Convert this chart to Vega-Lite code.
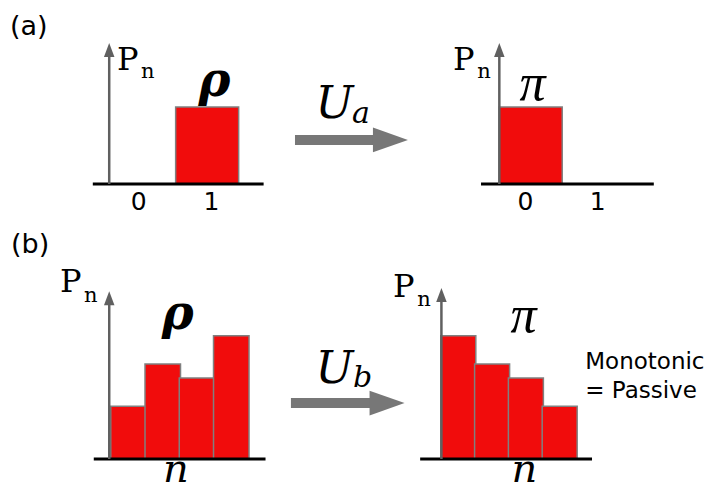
{
"$schema": "https://vega.github.io/schema/vega-lite/v6.json",
"padding": 0,
"background": "white",
"spacing": 0,
"bounds": "flush",
"columns": 3,
"config": {"view": {"stroke": null}},
"concat": [
{"width": 285, "height": 220, "layer": [
 {"data": {"values": [{"n": 0, "P": 0}, {"n": 1, "P": 1}]}, "mark": {"type": "bar", "width": 63, "fill": "#f10c0c", "stroke": "#808080", "strokeWidth": 1.5},
  "encoding": {"x": {"field": "n", "type": "quantitative", "axis": null, "scale": {"domain": [-2.3254, 2.1984], "nice": false, "zero": false}}, "y": {"field": "P", "type": "quantitative", "axis": null, "scale": {"domain": [-0.4675, 2.3896], "nice": false, "zero": false}}, "y2": {"datum": 0}}},
 {"data": {"values": [{}]}, "mark": {"type": "rule", "color": "black", "strokeWidth": 3},
  "encoding": {"x": {"datum": -0.881, "type": "quantitative", "axis": null, "scale": {"domain": [-2.3254, 2.1984], "nice": false, "zero": false}}, "x2": {"datum": 1.929}, "y": {"datum": 0, "type": "quantitative", "axis": null, "scale": {"domain": [-0.4675, 2.3896], "nice": false, "zero": false}}}},
 {"data": {"values": [{}]}, "mark": {"type": "rule", "color": "#606060", "strokeWidth": 2.5},
  "encoding": {"x": {"datum": -0.611, "type": "quantitative", "axis": null, "scale": {"domain": [-2.3254, 2.1984], "nice": false, "zero": false}}, "y": {"datum": 0, "type": "quantitative", "axis": null, "scale": {"domain": [-0.4675, 2.3896], "nice": false, "zero": false}}, "y2": {"datum": 1.74}}},
 {"data": {"values": [{}]}, "mark": {"type": "point", "shape": "M0,-1L0.75,1L-0.75,1Z", "size": 196, "filled": true, "fill": "#606060", "strokeWidth": 0, "opacity": 1},
  "encoding": {"x": {"datum": -0.611, "type": "quantitative", "axis": null, "scale": {"domain": [-2.3254, 2.1984], "nice": false, "zero": false}}, "y": {"datum": 1.74, "type": "quantitative", "axis": null, "scale": {"domain": [-0.4675, 2.3896], "nice": false, "zero": false}}}},
 {"data": {"values": [{}]}, "mark": {"type": "text", "text": "(a)", "font": "DejaVu Sans", "fontSize": 27, "align": "left", "baseline": "alphabetic", "color": "black"},
  "encoding": {"x": {"datum": -2.245, "type": "quantitative", "axis": null, "scale": {"domain": [-2.3254, 2.1984], "nice": false, "zero": false}}, "y": {"datum": 1.935, "type": "quantitative", "axis": null, "scale": {"domain": [-0.4675, 2.3896], "nice": false, "zero": false}}}},
 {"data": {"values": [{}]}, "mark": {"type": "text", "text": "0", "font": "DejaVu Sans", "fontSize": 25, "align": "center", "baseline": "alphabetic", "color": "black"},
  "encoding": {"x": {"datum": -0.127, "type": "quantitative", "axis": null, "scale": {"domain": [-2.3254, 2.1984], "nice": false, "zero": false}}, "y": {"datum": -0.338, "type": "quantitative", "axis": null, "scale": {"domain": [-0.4675, 2.3896], "nice": false, "zero": false}}}},
 {"data": {"values": [{}]}, "mark": {"type": "text", "text": "1", "font": "DejaVu Sans", "fontSize": 25, "align": "center", "baseline": "alphabetic", "color": "black"},
  "encoding": {"x": {"datum": 1.071, "type": "quantitative", "axis": null, "scale": {"domain": [-2.3254, 2.1984], "nice": false, "zero": false}}, "y": {"datum": -0.338, "type": "quantitative", "axis": null, "scale": {"domain": [-0.4675, 2.3896], "nice": false, "zero": false}}}},
 {"data": {"values": [{}]}, "mark": {"type": "text", "text": "P", "font": "DejaVu Serif", "fontSize": 32, "align": "left", "baseline": "alphabetic", "color": "black"},
  "encoding": {"x": {"datum": -0.484, "type": "quantitative", "axis": null, "scale": {"domain": [-2.3254, 2.1984], "nice": false, "zero": false}}, "y": {"datum": 1.481, "type": "quantitative", "axis": null, "scale": {"domain": [-0.4675, 2.3896], "nice": false, "zero": false}}}},
 {"data": {"values": [{}]}, "mark": {"type": "text", "text": "n", "font": "DejaVu Serif", "fontSize": 21, "align": "left", "baseline": "alphabetic", "color": "black"},
  "encoding": {"x": {"datum": -0.087, "type": "quantitative", "axis": null, "scale": {"domain": [-2.3254, 2.1984], "nice": false, "zero": false}}, "y": {"datum": 1.377, "type": "quantitative", "axis": null, "scale": {"domain": [-0.4675, 2.3896], "nice": false, "zero": false}}}},
 {"data": {"values": [{}]}, "mark": {"type": "text", "text": "ρ", "font": "DejaVu Serif", "fontSize": 48, "fontStyle": "italic", "fontWeight": "bold", "align": "center", "baseline": "alphabetic", "color": "black"},
  "encoding": {"x": {"datum": 1.119, "type": "quantitative", "axis": null, "scale": {"domain": [-2.3254, 2.1984], "nice": false, "zero": false}}, "y": {"datum": 1.143, "type": "quantitative", "axis": null, "scale": {"domain": [-0.4675, 2.3896], "nice": false, "zero": false}}}}
]},
{"width": 135, "height": 220, "data": {"values": [{}]}, "layer": [
 {"mark": {"type": "rule", "color": "#777777", "strokeWidth": 10},
  "encoding": {"x": {"datum": 0.074, "type": "quantitative", "axis": null, "scale": {"domain": [0, 1], "nice": false, "zero": false}}, "x2": {"datum": 0.7}, "y": {"datum": 0.364, "type": "quantitative", "axis": null, "scale": {"domain": [0, 1], "nice": false, "zero": false}}}},
 {"mark": {"type": "point", "shape": "M-1,-0.71L1,0L-1,0.71Z", "size": 1225, "filled": true, "fill": "#777777", "strokeWidth": 0, "opacity": 1},
  "encoding": {"x": {"datum": 0.781, "type": "quantitative", "axis": null, "scale": {"domain": [0, 1], "nice": false, "zero": false}}, "y": {"datum": 0.364, "type": "quantitative", "axis": null, "scale": {"domain": [0, 1], "nice": false, "zero": false}}}},
 {"mark": {"type": "text", "text": "U", "font": "DejaVu Serif", "fontSize": 45, "fontStyle": "italic", "align": "left", "baseline": "alphabetic", "color": "black"},
  "encoding": {"x": {"datum": 0.225, "type": "quantitative", "axis": null, "scale": {"domain": [0, 1], "nice": false, "zero": false}}, "y": {"datum": 0.464, "type": "quantitative", "axis": null, "scale": {"domain": [0, 1], "nice": false, "zero": false}}}},
 {"mark": {"type": "text", "text": "a", "font": "DejaVu Serif", "fontSize": 30, "fontStyle": "italic", "align": "left", "baseline": "alphabetic", "color": "black"},
  "encoding": {"x": {"datum": 0.496, "type": "quantitative", "axis": null, "scale": {"domain": [0, 1], "nice": false, "zero": false}}, "y": {"datum": 0.441, "type": "quantitative", "axis": null, "scale": {"domain": [0, 1], "nice": false, "zero": false}}}}
]},
{"width": 289, "height": 220, "layer": [
 {"data": {"values": [{"n": 0, "P": 1}, {"n": 1, "P": 0}]}, "mark": {"type": "bar", "width": 63, "fill": "#f10c0c", "stroke": "#808080", "strokeWidth": 1.5},
  "encoding": {"x": {"field": "n", "type": "quantitative", "axis": null, "scale": {"domain": [-1.7381, 2.8492], "nice": false, "zero": false}}, "y": {"field": "P", "type": "quantitative", "axis": null, "scale": {"domain": [-0.4675, 2.3896], "nice": false, "zero": false}}, "y2": {"datum": 0}}},
 {"data": {"values": [{}]}, "mark": {"type": "rule", "color": "black", "strokeWidth": 3},
  "encoding": {"x": {"datum": -0.817, "type": "quantitative", "axis": null, "scale": {"domain": [-1.7381, 2.8492], "nice": false, "zero": false}}, "x2": {"datum": 2.024}, "y": {"datum": 0, "type": "quantitative", "axis": null, "scale": {"domain": [-0.4675, 2.3896], "nice": false, "zero": false}}}},
 {"data": {"values": [{}]}, "mark": {"type": "rule", "color": "#606060", "strokeWidth": 2.5},
  "encoding": {"x": {"datum": -0.516, "type": "quantitative", "axis": null, "scale": {"domain": [-1.7381, 2.8492], "nice": false, "zero": false}}, "y": {"datum": 0, "type": "quantitative", "axis": null, "scale": {"domain": [-0.4675, 2.3896], "nice": false, "zero": false}}, "y2": {"datum": 1.74}}},
 {"data": {"values": [{}]}, "mark": {"type": "point", "shape": "M0,-1L0.75,1L-0.75,1Z", "size": 196, "filled": true, "fill": "#606060", "strokeWidth": 0, "opacity": 1},
  "encoding": {"x": {"datum": -0.516, "type": "quantitative", "axis": null, "scale": {"domain": [-1.7381, 2.8492], "nice": false, "zero": false}}, "y": {"datum": 1.74, "type": "quantitative", "axis": null, "scale": {"domain": [-0.4675, 2.3896], "nice": false, "zero": false}}}},
 {"data": {"values": [{}]}, "mark": {"type": "text", "text": "0", "font": "DejaVu Sans", "fontSize": 25, "align": "center", "baseline": "alphabetic", "color": "black"},
  "encoding": {"x": {"datum": -0.087, "type": "quantitative", "axis": null, "scale": {"domain": [-1.7381, 2.8492], "nice": false, "zero": false}}, "y": {"datum": -0.338, "type": "quantitative", "axis": null, "scale": {"domain": [-0.4675, 2.3896], "nice": false, "zero": false}}}},
 {"data": {"values": [{}]}, "mark": {"type": "text", "text": "1", "font": "DejaVu Sans", "fontSize": 25, "align": "center", "baseline": "alphabetic", "color": "black"},
  "encoding": {"x": {"datum": 1.103, "type": "quantitative", "axis": null, "scale": {"domain": [-1.7381, 2.8492], "nice": false, "zero": false}}, "y": {"datum": -0.338, "type": "quantitative", "axis": null, "scale": {"domain": [-0.4675, 2.3896], "nice": false, "zero": false}}}},
 {"data": {"values": [{}]}, "mark": {"type": "text", "text": "P", "font": "DejaVu Serif", "fontSize": 32, "align": "left", "baseline": "alphabetic", "color": "black"},
  "encoding": {"x": {"datum": -1.278, "type": "quantitative", "axis": null, "scale": {"domain": [-1.7381, 2.8492], "nice": false, "zero": false}}, "y": {"datum": 1.481, "type": "quantitative", "axis": null, "scale": {"domain": [-0.4675, 2.3896], "nice": false, "zero": false}}}},
 {"data": {"values": [{}]}, "mark": {"type": "text", "text": "n", "font": "DejaVu Serif", "fontSize": 21, "align": "left", "baseline": "alphabetic", "color": "black"},
  "encoding": {"x": {"datum": -0.881, "type": "quantitative", "axis": null, "scale": {"domain": [-1.7381, 2.8492], "nice": false, "zero": false}}, "y": {"datum": 1.377, "type": "quantitative", "axis": null, "scale": {"domain": [-0.4675, 2.3896], "nice": false, "zero": false}}}},
 {"data": {"values": [{}]}, "mark": {"type": "text", "text": "π", "font": "Liberation Serif", "fontSize": 52, "fontStyle": "italic", "align": "center", "baseline": "alphabetic", "color": "black"},
  "encoding": {"x": {"datum": 0.03, "type": "quantitative", "axis": null, "scale": {"domain": [-1.7381, 2.8492], "nice": false, "zero": false}}, "y": {"datum": 1.091, "type": "quantitative", "axis": null, "scale": {"domain": [-0.4675, 2.3896], "nice": false, "zero": false}}}}
]},
{"width": 285, "height": 270, "layer": [
 {"data": {"values": [{"n": 0, "P": 0.15}, {"n": 1, "P": 0.27}, {"n": 2, "P": 0.23}, {"n": 3, "P": 0.35}]}, "mark": {"type": "bar", "width": 35.5, "fill": "#f10c0c", "stroke": "#808080", "strokeWidth": 1.5},
  "encoding": {"x": {"field": "n", "type": "quantitative", "axis": null, "scale": {"domain": [-3.6056, 4.4225], "nice": false, "zero": false}}, "y": {"field": "P", "type": "quantitative", "axis": null, "scale": {"domain": [-0.0881, 0.679], "nice": false, "zero": false}}, "y2": {"datum": 0}}},
 {"data": {"values": [{}]}, "mark": {"type": "rule", "color": "black", "strokeWidth": 3},
  "encoding": {"x": {"datum": -1.014, "type": "quantitative", "axis": null, "scale": {"domain": [-3.6056, 4.4225], "nice": false, "zero": false}}, "x2": {"datum": 4.0}, "y": {"datum": 0, "type": "quantitative", "axis": null, "scale": {"domain": [-0.0881, 0.679], "nice": false, "zero": false}}}},
 {"data": {"values": [{}]}, "mark": {"type": "rule", "color": "#606060", "strokeWidth": 2.5},
  "encoding": {"x": {"datum": -0.563, "type": "quantitative", "axis": null, "scale": {"domain": [-3.6056, 4.4225], "nice": false, "zero": false}}, "y": {"datum": 0, "type": "quantitative", "axis": null, "scale": {"domain": [-0.0881, 0.679], "nice": false, "zero": false}}, "y2": {"datum": 0.457}}},
 {"data": {"values": [{}]}, "mark": {"type": "point", "shape": "M0,-1L0.75,1L-0.75,1Z", "size": 196, "filled": true, "fill": "#606060", "strokeWidth": 0, "opacity": 1},
  "encoding": {"x": {"datum": -0.563, "type": "quantitative", "axis": null, "scale": {"domain": [-3.6056, 4.4225], "nice": false, "zero": false}}, "y": {"datum": 0.457, "type": "quantitative", "axis": null, "scale": {"domain": [-0.0881, 0.679], "nice": false, "zero": false}}}},
 {"data": {"values": [{}]}, "mark": {"type": "text", "text": "(b)", "font": "DejaVu Sans", "fontSize": 27, "align": "left", "baseline": "alphabetic", "color": "black"},
  "encoding": {"x": {"datum": -3.43, "type": "quantitative", "axis": null, "scale": {"domain": [-3.6056, 4.4225], "nice": false, "zero": false}}, "y": {"datum": 0.585, "type": "quantitative", "axis": null, "scale": {"domain": [-0.0881, 0.679], "nice": false, "zero": false}}}},
 {"data": {"values": [{}]}, "mark": {"type": "text", "text": "P", "font": "DejaVu Serif", "fontSize": 32, "align": "left", "baseline": "alphabetic", "color": "black"},
  "encoding": {"x": {"datum": -2.0, "type": "quantitative", "axis": null, "scale": {"domain": [-3.6056, 4.4225], "nice": false, "zero": false}}, "y": {"datum": 0.474, "type": "quantitative", "axis": null, "scale": {"domain": [-0.0881, 0.679], "nice": false, "zero": false}}}},
 {"data": {"values": [{}]}, "mark": {"type": "text", "text": "n", "font": "DejaVu Serif", "fontSize": 21, "align": "left", "baseline": "alphabetic", "color": "black"},
  "encoding": {"x": {"datum": -1.296, "type": "quantitative", "axis": null, "scale": {"domain": [-3.6056, 4.4225], "nice": false, "zero": false}}, "y": {"datum": 0.446, "type": "quantitative", "axis": null, "scale": {"domain": [-0.0881, 0.679], "nice": false, "zero": false}}}},
 {"data": {"values": [{}]}, "mark": {"type": "text", "text": "ρ", "font": "DejaVu Serif", "fontSize": 48, "fontStyle": "italic", "fontWeight": "bold", "align": "center", "baseline": "alphabetic", "color": "black"},
  "encoding": {"x": {"datum": 1.437, "type": "quantitative", "axis": null, "scale": {"domain": [-3.6056, 4.4225], "nice": false, "zero": false}}, "y": {"datum": 0.369, "type": "quantitative", "axis": null, "scale": {"domain": [-0.0881, 0.679], "nice": false, "zero": false}}}},
 {"data": {"values": [{}]}, "mark": {"type": "text", "text": "n", "font": "DejaVu Serif", "fontSize": 40, "fontStyle": "italic", "align": "center", "baseline": "alphabetic", "color": "black"},
  "encoding": {"x": {"datum": 1.38, "type": "quantitative", "axis": null, "scale": {"domain": [-3.6056, 4.4225], "nice": false, "zero": false}}, "y": {"datum": -0.065, "type": "quantitative", "axis": null, "scale": {"domain": [-0.0881, 0.679], "nice": false, "zero": false}}}}
]},
{"width": 135, "height": 270, "data": {"values": [{}]}, "layer": [
 {"mark": {"type": "rule", "color": "#777777", "strokeWidth": 10},
  "encoding": {"x": {"datum": 0.044, "type": "quantitative", "axis": null, "scale": {"domain": [0, 1], "nice": false, "zero": false}}, "x2": {"datum": 0.7}, "y": {"datum": 0.322, "type": "quantitative", "axis": null, "scale": {"domain": [0, 1], "nice": false, "zero": false}}}},
 {"mark": {"type": "point", "shape": "M-1,-0.71L1,0L-1,0.71Z", "size": 1225, "filled": true, "fill": "#777777", "strokeWidth": 0, "opacity": 1},
  "encoding": {"x": {"datum": 0.756, "type": "quantitative", "axis": null, "scale": {"domain": [0, 1], "nice": false, "zero": false}}, "y": {"datum": 0.322, "type": "quantitative", "axis": null, "scale": {"domain": [0, 1], "nice": false, "zero": false}}}},
 {"mark": {"type": "text", "text": "U", "font": "DejaVu Serif", "fontSize": 45, "fontStyle": "italic", "align": "left", "baseline": "alphabetic", "color": "black"},
  "encoding": {"x": {"datum": 0.225, "type": "quantitative", "axis": null, "scale": {"domain": [0, 1], "nice": false, "zero": false}}, "y": {"datum": 0.396, "type": "quantitative", "axis": null, "scale": {"domain": [0, 1], "nice": false, "zero": false}}}},
 {"mark": {"type": "text", "text": "b", "font": "DejaVu Serif", "fontSize": 30, "fontStyle": "italic", "align": "left", "baseline": "alphabetic", "color": "black"},
  "encoding": {"x": {"datum": 0.504, "type": "quantitative", "axis": null, "scale": {"domain": [0, 1], "nice": false, "zero": false}}, "y": {"datum": 0.381, "type": "quantitative", "axis": null, "scale": {"domain": [0, 1], "nice": false, "zero": false}}}}
]},
{"width": 289, "height": 270, "layer": [
 {"data": {"values": [{"n": 0, "P": 0.35}, {"n": 1, "P": 0.27}, {"n": 2, "P": 0.23}, {"n": 3, "P": 0.15}]}, "mark": {"type": "bar", "width": 35, "fill": "#f10c0c", "stroke": "#808080", "strokeWidth": 1.5},
  "encoding": {"x": {"field": "n", "type": "quantitative", "axis": null, "scale": {"domain": [-0.9857, 7.2714], "nice": false, "zero": false}}, "y": {"field": "P", "type": "quantitative", "axis": null, "scale": {"domain": [-0.0881, 0.679], "nice": false, "zero": false}}, "y2": {"datum": 0}}},
 {"data": {"values": [{}]}, "mark": {"type": "rule", "color": "black", "strokeWidth": 3},
  "encoding": {"x": {"datum": -1.129, "type": "quantitative", "axis": null, "scale": {"domain": [-0.9857, 7.2714], "nice": false, "zero": false}}, "x2": {"datum": 3.957}, "y": {"datum": 0, "type": "quantitative", "axis": null, "scale": {"domain": [-0.0881, 0.679], "nice": false, "zero": false}}}},
 {"data": {"values": [{}]}, "mark": {"type": "rule", "color": "#606060", "strokeWidth": 2.5},
  "encoding": {"x": {"datum": -0.5, "type": "quantitative", "axis": null, "scale": {"domain": [-0.9857, 7.2714], "nice": false, "zero": false}}, "y": {"datum": 0, "type": "quantitative", "axis": null, "scale": {"domain": [-0.0881, 0.679], "nice": false, "zero": false}}, "y2": {"datum": 0.466}}},
 {"data": {"values": [{}]}, "mark": {"type": "point", "shape": "M0,-1L0.75,1L-0.75,1Z", "size": 196, "filled": true, "fill": "#606060", "strokeWidth": 0, "opacity": 1},
  "encoding": {"x": {"datum": -0.5, "type": "quantitative", "axis": null, "scale": {"domain": [-0.9857, 7.2714], "nice": false, "zero": false}}, "y": {"datum": 0.466, "type": "quantitative", "axis": null, "scale": {"domain": [-0.0881, 0.679], "nice": false, "zero": false}}}},
 {"data": {"values": [{}]}, "mark": {"type": "text", "text": "P", "font": "DejaVu Serif", "fontSize": 32, "align": "left", "baseline": "alphabetic", "color": "black"},
  "encoding": {"x": {"datum": -1.93, "type": "quantitative", "axis": null, "scale": {"domain": [-0.9857, 7.2714], "nice": false, "zero": false}}, "y": {"datum": 0.46, "type": "quantitative", "axis": null, "scale": {"domain": [-0.0881, 0.679], "nice": false, "zero": false}}}},
 {"data": {"values": [{}]}, "mark": {"type": "text", "text": "n", "font": "DejaVu Serif", "fontSize": 21, "align": "left", "baseline": "alphabetic", "color": "black"},
  "encoding": {"x": {"datum": -1.214, "type": "quantitative", "axis": null, "scale": {"domain": [-0.9857, 7.2714], "nice": false, "zero": false}}, "y": {"datum": 0.435, "type": "quantitative", "axis": null, "scale": {"domain": [-0.0881, 0.679], "nice": false, "zero": false}}}},
 {"data": {"values": [{}]}, "mark": {"type": "text", "text": "π", "font": "Liberation Serif", "fontSize": 52, "fontStyle": "italic", "align": "center", "baseline": "alphabetic", "color": "black"},
  "encoding": {"x": {"datum": 1.93, "type": "quantitative", "axis": null, "scale": {"domain": [-0.9857, 7.2714], "nice": false, "zero": false}}, "y": {"datum": 0.361, "type": "quantitative", "axis": null, "scale": {"domain": [-0.0881, 0.679], "nice": false, "zero": false}}}},
 {"data": {"values": [{}]}, "mark": {"type": "text", "text": "n", "font": "DejaVu Serif", "fontSize": 40, "fontStyle": "italic", "align": "center", "baseline": "alphabetic", "color": "black"},
  "encoding": {"x": {"datum": 1.957, "type": "quantitative", "axis": null, "scale": {"domain": [-0.9857, 7.2714], "nice": false, "zero": false}}, "y": {"datum": -0.065, "type": "quantitative", "axis": null, "scale": {"domain": [-0.0881, 0.679], "nice": false, "zero": false}}}},
 {"data": {"values": [{}]}, "mark": {"type": "text", "text": "Monotonic", "font": "DejaVu Sans", "fontSize": 23, "align": "left", "baseline": "alphabetic", "color": "black"},
  "encoding": {"x": {"datum": 3.757, "type": "quantitative", "axis": null, "scale": {"domain": [-0.9857, 7.2714], "nice": false, "zero": false}}, "y": {"datum": 0.256, "type": "quantitative", "axis": null, "scale": {"domain": [-0.0881, 0.679], "nice": false, "zero": false}}}},
 {"data": {"values": [{}]}, "mark": {"type": "text", "text": "= Passive", "font": "DejaVu Sans", "fontSize": 23, "align": "left", "baseline": "alphabetic", "color": "black"},
  "encoding": {"x": {"datum": 3.757, "type": "quantitative", "axis": null, "scale": {"domain": [-0.9857, 7.2714], "nice": false, "zero": false}}, "y": {"datum": 0.173, "type": "quantitative", "axis": null, "scale": {"domain": [-0.0881, 0.679], "nice": false, "zero": false}}}}
]}
]
}
